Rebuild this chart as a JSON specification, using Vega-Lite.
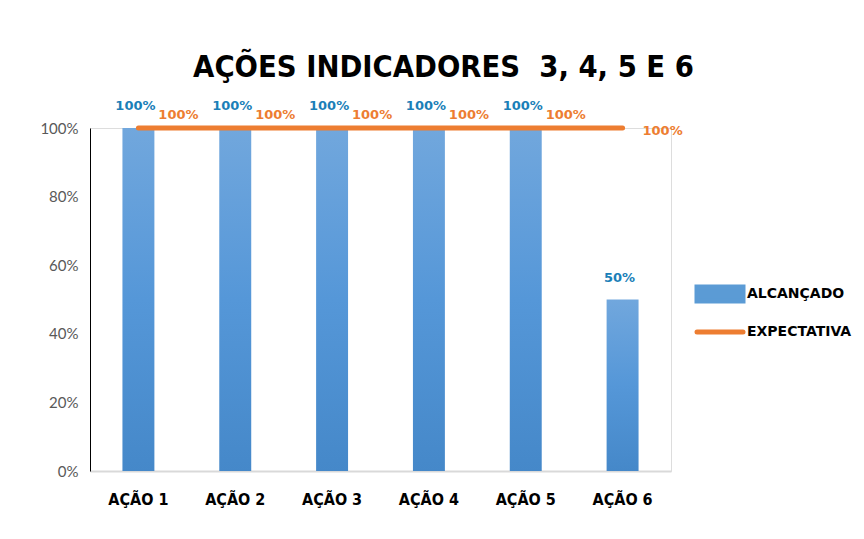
{
  "$schema": "https://vega.github.io/schema/vega-lite/v6.json",
  "width": 581,
  "height": 343,
  "autosize": {"type": "none"},
  "padding": {"left": 90, "top": 128, "right": 193, "bottom": 68},
  "background": "white",
  "title": {
    "text": "AÇÕES INDICADORES\u00a0 3, 4, 5 E 6",
    "font": "DejaVu Sans Condensed",
    "fontSize": 30.6,
    "fontWeight": "bold",
    "color": "#000000",
    "anchor": "middle",
    "frame": "group",
    "dx": 63,
    "offset": 16
  },
  "data": {
    "values": [
      {"acao": "AÇÃO 1", "alcancado": 1, "expectativa": 1},
      {"acao": "AÇÃO 2", "alcancado": 1, "expectativa": 1},
      {"acao": "AÇÃO 3", "alcancado": 1, "expectativa": 1},
      {"acao": "AÇÃO 4", "alcancado": 1, "expectativa": 1},
      {"acao": "AÇÃO 5", "alcancado": 1, "expectativa": 1},
      {"acao": "AÇÃO 6", "alcancado": 0.5, "expectativa": 1}
    ]
  },
  "encoding": {
    "x": {
      "field": "acao",
      "type": "nominal",
      "sort": null,
      "scale": {"paddingInner": 0.67, "paddingOuter": 0.335},
      "axis": {
        "title": null,
        "labelAngle": 0,
        "ticks": false,
        "domainColor": "#d9d9d9",
        "domainWidth": 2,
        "labelFont": "DejaVu Sans Condensed",
        "labelFontWeight": "bold",
        "labelFontSize": 16,
        "labelColor": "#000000",
        "labelPadding": 20
      }
    }
  },
  "layer": [
    {
      "mark": {
        "type": "bar",
        "fill": {
          "gradient": "linear",
          "x1": 0, "y1": 0, "x2": 0, "y2": 1,
          "stops": [
            {"offset": 0, "color": "#71a7dd"},
            {"offset": 0.5, "color": "#5597d8"},
            {"offset": 1, "color": "#4588c9"}
          ]
        }
      },
      "encoding": {
        "y": {
          "field": "alcancado",
          "type": "quantitative",
          "scale": {"domain": [0, 1], "nice": false},
          "axis": {
            "title": null,
            "values": [0, 0.2, 0.4, 0.6, 0.8, 1],
            "format": ".0%",
            "grid": false,
            "ticks": false,
            "domainColor": "#000000",
            "domainWidth": 1,
            "labelFont": "Lato",
            "labelFontSize": 15,
            "labelColor": "#595959",
            "labelPadding": 12
          }
        }
      }
    },
    {
      "mark": {"type": "line", "strokeWidth": 5, "strokeCap": "round"},
      "encoding": {
        "y": {"field": "expectativa", "type": "quantitative"},
        "color": {
          "datum": "EXPECTATIVA",
          "type": "nominal",
          "scale": {"domain": ["ALCANÇADO", "EXPECTATIVA"], "range": ["#5b9bd5", "#ed7d31"]},
          "legend": {
            "title": null,
            "orient": "none",
            "legendX": 616,
            "legendY": 152,
            "padding": 0,
            "symbolSize": 529,
            "labelFont": "DejaVu Sans",
            "labelFontWeight": "bold",
            "labelFontSize": 14,
            "labelColor": "#000000",
            "rowPadding": 7,
            "labelOffset": 13,
            "encode": {
              "symbols": {
                "update": {
                  "shape": {"signal": "datum.value === 'ALCANÇADO' ? 'M-2,-0.6H2V0.6H-2Z' : 'M-2,0H2'"},
                  "fill": {"signal": "datum.value === 'ALCANÇADO' ? '#5b9bd5' : 'transparent'"},
                  "stroke": {"signal": "datum.value === 'ALCANÇADO' ? 'transparent' : '#ed7d31'"},
                  "strokeWidth": {"value": 5},
                  "strokeCap": {"value": "round"}
                }
              }
            }
          }
        }
      }
    },
    {
      "mark": {"type": "text", "baseline": "bottom", "dy": -15, "dx": -3, "color": "#1b7fb8", "font": "DejaVu Sans", "fontWeight": "bold", "fontSize": 13},
      "encoding": {
        "y": {"field": "alcancado", "type": "quantitative"},
        "text": {"field": "alcancado", "type": "quantitative", "format": ".0%"}
      }
    },
    {
      "transform": [{"filter": "datum.acao !== 'AÇÃO 6'"}],
      "mark": {"type": "text", "baseline": "middle", "dx": 40, "dy": -13, "color": "#ed7d31", "font": "DejaVu Sans", "fontWeight": "bold", "fontSize": 13},
      "encoding": {
        "y": {"field": "expectativa", "type": "quantitative"},
        "text": {"field": "expectativa", "type": "quantitative", "format": ".0%"}
      }
    },
    {
      "transform": [{"filter": "datum.acao === 'AÇÃO 6'"}],
      "mark": {"type": "text", "baseline": "middle", "dx": 40, "dy": 3, "color": "#ed7d31", "font": "DejaVu Sans", "fontWeight": "bold", "fontSize": 13},
      "encoding": {
        "y": {"field": "expectativa", "type": "quantitative"},
        "text": {"field": "expectativa", "type": "quantitative", "format": ".0%"}
      }
    }
  ]
}
